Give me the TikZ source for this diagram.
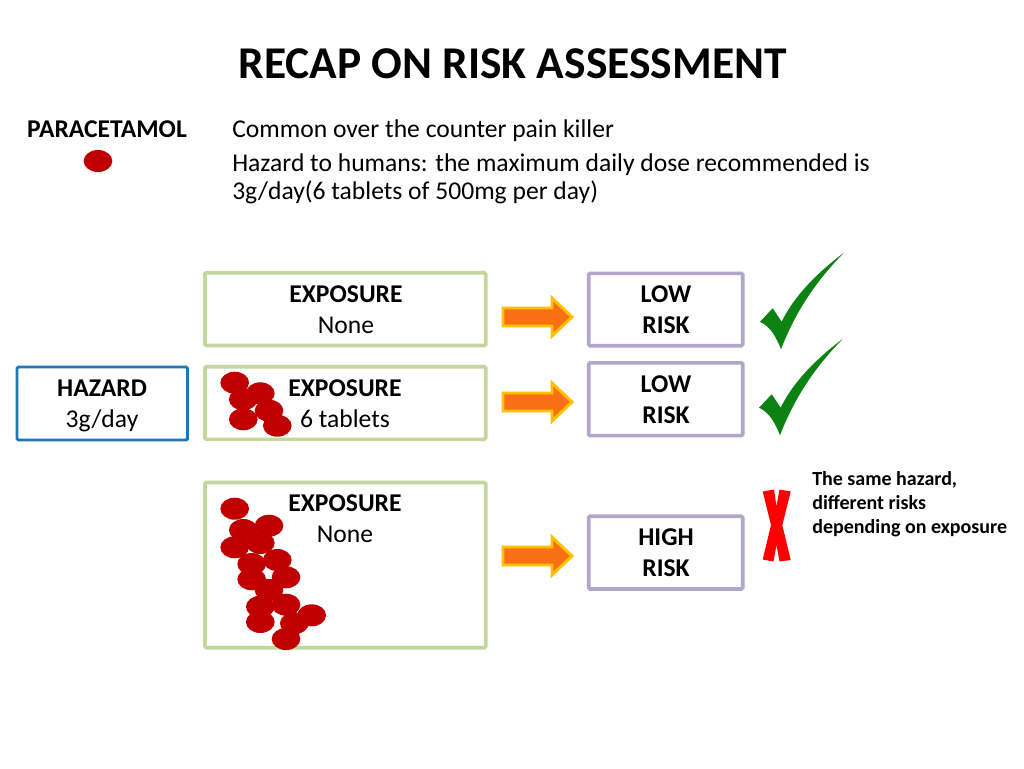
\documentclass[tikz,border=0pt]{standalone}
\usepackage{fontspec}
\setmainfont{Carlito}
\usetikzlibrary{shapes.geometric}
\definecolor{greenline}{HTML}{C3D69B}
\definecolor{purpleline}{HTML}{B2A6CB}
\definecolor{blueline}{HTML}{1F78B4}
\definecolor{pillred}{HTML}{C00000}
\definecolor{arrowfill}{HTML}{F96F14}
\definecolor{arrowline}{HTML}{FFC000}
\definecolor{tickgreen}{HTML}{0B8211}
\tikzset{
  x=0.75pt,y=-0.75pt,
  greenbox/.style={draw=greenline,line width=2.7pt,rounded corners=1pt,fill=white},
  purplebox/.style={draw=purpleline,line width=2.7pt,rounded corners=1pt,fill=white},
  bluebox/.style={draw=blueline,line width=2.2pt,rounded corners=1pt,fill=white},
  pill/.style={fill=pillred,draw=none,ellipse,inner sep=0pt,minimum width=21.5pt,minimum height=16.5pt},
  boxlabel/.style={font=\fontsize{19.2}{19.2}\selectfont,anchor=base,text=black,inner sep=0pt},
  boldlabel/.style={font=\fontsize{19.2}{19.2}\selectfont\bfseries,anchor=base,text=black,inner sep=0pt},
  linelabel/.style={anchor=base west,inner sep=0pt,text=black,font=\fontsize{19.2}{19.2}\selectfont},
  notelabel/.style={anchor=base west,inner sep=0pt,text=black,font=\fontsize{15}{15}\selectfont\bfseries},
}
\newcommand{\blockarrow}[2]{%
  \begin{scope}[shift={(#1,#2)}]
  \draw[fill=arrowfill,draw=arrowline,line width=2.2pt,miter limit=4]
    (503,-9) -- (552,-9) -- (552,-19) -- (572,0) -- (552,19) -- (552,9) -- (503,9) -- cycle;
  \end{scope}}
\newcommand{\tickmark}[2]{%
  \fill[tickgreen,shift={(#1,#2)}]
    (760,321.7) -- (772.7,308.3) -- (781.7,321.7)
    .. controls (794,296) and (818,272) .. (844,252.7)
    .. controls (822,275) and (798,305) .. (781,349.3)
    .. controls (776,337) and (771,327) .. (760,321.7) -- cycle;}
\newcommand{\pillat}[2]{\node[pill] at (#1,#2) {};}
\begin{document}
\begin{tikzpicture}
\useasboundingbox (0,0) rectangle (1024,768);
\fill[white] (0,0) rectangle (1024,768);

\node[anchor=base,inner sep=0pt,font=\fontsize{34.1}{34.1}\selectfont\bfseries] (title) at (512.5,78) {RECAP ON RISK ASSESSMENT};
\node[boldlabel] (para) at (107,137) {PARACETAMOL};
\node[pill] (onepill) at (98,161) {};
\node[linelabel] (l1) at (232,137) {Common over the counter pain killer};
\node[linelabel] (l2) at (232,171) {Hazard to humans: the maximum daily dose recommended is};
\node[linelabel] (l3) at (232,199) {3g/day(6 tablets of 500mg per day)};

\draw[greenbox] (205,272.7) rectangle (485.7,345.5);
\draw[greenbox] (205,366.7) rectangle (485.7,439.3);
\draw[greenbox] (205,482.5) rectangle (485.7,647.7);
\draw[purplebox] (588.7,273.3) rectangle (742.7,345.7);
\draw[purplebox] (588.7,362.8) rectangle (742.7,435.6);
\draw[purplebox] (588.7,516.2) rectangle (742.7,589);
\draw[bluebox] (17,367) rectangle (187.5,440);

\pillat{234.7}{382.7}\pillat{243.3}{399.3}\pillat{260.3}{393.3}\pillat{243.3}{419.3}\pillat{269}{410.7}\pillat{277.3}{425.7}
\pillat{234.7}{508.7}\pillat{243.3}{530}\pillat{269}{525.7}\pillat{234.7}{547.3}\pillat{260.3}{543}\pillat{251.7}{564}\pillat{277.3}{560}\pillat{251.7}{579.3}\pillat{286}{577.3}\pillat{269}{590}\pillat{260.3}{606.7}\pillat{286}{604.7}\pillat{311.7}{615.3}\pillat{294.3}{623.3}\pillat{260.3}{622}\pillat{286}{639}

\node[boldlabel] (e1) at (346,302) {EXPOSURE};
\node[boxlabel] (e1b) at (346,333) {None};
\node[boldlabel] (e2) at (345,396) {EXPOSURE};
\node[boxlabel] (e2b) at (345,427) {6 tablets};
\node[boldlabel] (e3) at (345,511) {EXPOSURE};
\node[boxlabel] (e3b) at (345,542) {None};
\node[boldlabel] (r1) at (666,302) {LOW};
\node[boldlabel] (r1b) at (666,333) {RISK};
\node[boldlabel] (r2) at (666,392) {LOW};
\node[boldlabel] (r2b) at (666,423) {RISK};
\node[boldlabel] (r3) at (666,545) {HIGH};
\node[boldlabel] (r3b) at (666,576) {RISK};
\node[boldlabel] (h) at (102,396) {HAZARD};
\node[boxlabel] (hb) at (102,427) {3g/day};

\blockarrow{0}{317}
\blockarrow{0}{402}
\blockarrow{0}{556}
\tickmark{0}{0}
\tickmark{-1}{86}

\fill[red] (762.7,491.5) -- (774,489.5) -- (776.5,506.5) -- (779.5,489.5) -- (790.7,491.5)
  -- (782.3,525) -- (790.7,560) -- (779.5,561.5) -- (776.5,545) -- (773.5,561.5) -- (762.7,559.5)
  -- (771,525) -- cycle;

\node[notelabel] (n1) at (812,485) {The same hazard,};
\node[notelabel] (n2) at (812,509) {different risks};
\node[notelabel] (n3) at (812,533) {depending on exposure};
\end{tikzpicture}
\end{document}
